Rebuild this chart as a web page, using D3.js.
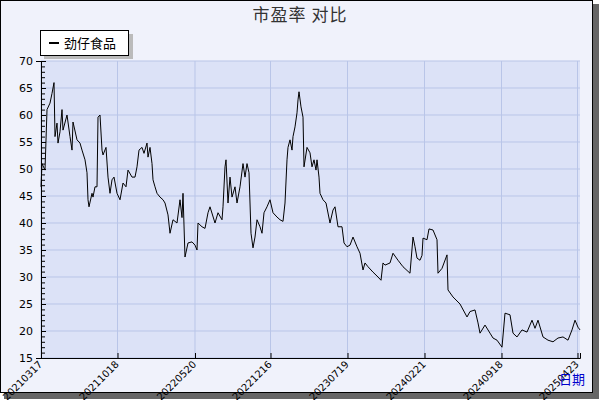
<!DOCTYPE html>
<html><head><meta charset="utf-8">
<script src="https://cdn.jsdelivr.net/npm/d3@7"></script>
<style>body{margin:0;background:#fff}</style></head>
<body><svg id="c" width="600" height="400"></svg>
<script>
const title = "市盈率  对比";
const seriesName = "劲仔食品";
const xTickIdx = [0, 153, 308, 459, 613, 767, 921, 1073];
const xTickLabels = ["20210317","20211018","20220520","20221216","20230719","20240221","20240918","20250423"];
const yTicks = [15,20,25,30,35,40,45,50,55,60,65,70];
// [trading-day index, PE]
const pe = [[0,46.7],[2,51],[8,49.8],[12,61],[18,62.2],[22,64],[26,66],[28,56],[32,58.5],[34,54.8],[38,56.9],[42,61],[44,57.2],[52,60],[58,56],[62,53.5],[64,58.7],[72,55.4],[78,54.8],[82,53.5],[88,51.7],[92,49.3],[94,44.3],[96,43],[102,45.5],[104,44.8],[108,46.7],[112,46.7],[114,59.6],[118,60],[122,53.5],[124,52.6],[130,54],[134,48.5],[138,45.5],[142,48],[146,48.5],[152,45.5],[158,44.3],[164,47.4],[170,46.7],[174,49.8],[182,48.5],[188,48.5],[192,50.4],[196,53.5],[202,54],[206,52.9],[212,54.8],[214,52.2],[218,54],[222,51],[224,48],[228,46.7],[232,45.5],[238,44.8],[244,44.3],[248,43.7],[254,41.5],[258,38.1],[264,40.6],[272,40],[278,44.3],[282,41],[284,45.5],[288,33.7],[294,36.3],[302,36.5],[308,35.9],[312,35],[314,40],[322,39.3],[328,39],[334,41.9],[338,43],[348,40],[354,41.9],[362,40.6],[364,43],[368,50.4],[370,51.7],[374,43.7],[378,48.5],[382,44.8],[388,46.7],[392,43.7],[398,46.7],[404,51],[408,48.5],[412,51],[416,49.3],[420,38.1],[424,35.4],[428,37.4],[432,40.6],[438,39.3],[442,38.1],[446,41.9],[452,43],[458,44.3],[464,41.9],[472,41.1],[478,40.6],[484,40.3],[488,43.7],[492,51.7],[494,54],[498,55.4],[502,53.5],[504,56],[508,57.8],[512,60.4],[514,62.8],[516,64.3],[520,61.5],[524,59.6],[526,50.4],[532,54],[538,53],[542,50.4],[546,51.7],[550,49.8],[552,51.7],[556,48.5],[558,45.5],[564,44.3],[570,43.7],[578,40],[584,42.4],[588,43],[594,39.3],[602,39.3],[606,36.3],[612,35.6],[618,35.9],[624,37.4],[632,35.6],[638,34.4],[644,31.3],[648,32.6],[654,31.9],[664,30.9],[674,30],[680,29.4],[684,32.6],[688,32.2],[698,32.6],[704,34.4],[714,33.1],[724,31.9],[738,30.7],[744,37.4],[748,35.6],[752,33.5],[758,33.1],[762,34],[764,37.2],[772,36.9],[776,38.9],[784,38.7],[792,36.9],[794,30.7],[802,31.6],[812,34.1],[814,27.6],[824,26.3],[838,25],[852,22.6],[858,23.6],[868,23.9],[874,21.5],[878,19.6],[888,21.1],[898,19.6],[904,18.7],[912,18.3],[922,17],[928,23.3],[938,23],[944,19.6],[952,18.9],[962,20.2],[972,19.8],[982,22],[988,20.5],[994,22],[1004,18.9],[1014,18.3],[1024,18],[1034,18.7],[1044,18.9],[1054,18.3],[1062,20.2],[1068,22],[1074,20.7],[1078,20.2]];

const svg = d3.select("#c");
svg.append("rect").attr("x",4).attr("y",4).attr("width",595).attr("height",395).attr("fill","#666");
svg.append("rect").attr("x",0.5).attr("y",0.5).attr("width",592).attr("height",392).attr("fill","#f0f2fb").attr("stroke","#000");

const m = {l:41, r:580, t:61, b:358};
const x = d3.scaleLinear().domain([0,1078]).range([m.l,m.r]);
const y = d3.scaleLinear().domain([15,70]).range([m.b,m.t]);
svg.append("rect").attr("x",m.l).attr("y",m.t).attr("width",m.r-m.l).attr("height",m.b-m.t).attr("fill","#dce2f7");
const g = svg.append("g");
yTicks.forEach(v=>g.append("line").attr("x1",m.l).attr("x2",m.r).attr("y1",y(v)).attr("y2",y(v)).attr("stroke","#b9c5e8"));
xTickIdx.forEach(v=>g.append("line").attr("x1",x(v)).attr("x2",x(v)).attr("y1",m.t).attr("y2",m.b).attr("stroke","#b9c5e8"));

const line = d3.line().x(d=>x(d[0])).y(d=>y(d[1]));
svg.append("path").datum(pe).attr("d",line).attr("fill","none").attr("stroke","#000").attr("stroke-width",1);

const ya = svg.append("g").attr("transform",`translate(${m.l},0)`)
  .call(d3.axisLeft(y).tickValues(d3.range(15,70.1,1)).tickSize(5).tickFormat(d=>yTicks.includes(d)?d:""));
ya.selectAll(".tick line").attr("x2",d=>yTicks.includes(d)?5:4).attr("x1",0);
ya.selectAll("text").attr("x",-8).attr("font-family","DejaVu Sans").attr("font-size",11).attr("fill","#000");
ya.select(".domain").attr("stroke","#000");
const xa = svg.append("g").attr("transform",`translate(0,${m.b})`)
  .call(d3.axisBottom(x).tickValues(xTickIdx).tickSize(-5).tickFormat((d,i)=>xTickLabels[i]));
xa.select(".domain").attr("stroke","#000");
xa.selectAll("text").attr("font-family","DejaVu Sans").attr("font-size",10).attr("fill","#000")
  .attr("text-anchor","end").attr("dy",0).attr("y",6).attr("x",-4).attr("transform","rotate(-45)");

svg.append("text").attr("x",300).attr("y",21).attr("text-anchor","middle").attr("font-family","Noto Sans CJK SC").attr("font-size",17).attr("letter-spacing",1).attr("fill","#333").text(title);
svg.append("text").attr("x",572).attr("y",384).attr("text-anchor","middle").attr("font-family","Noto Sans CJK SC").attr("font-size",13).attr("fill","#0000cc").text("日期");

svg.append("rect").attr("x",44).attr("y",34).attr("width",89).attr("height",25).attr("fill","#bbb");
svg.append("rect").attr("x",40.5).attr("y",30.5).attr("width",88).attr("height",25).attr("fill","#fff").attr("stroke","#000");
svg.append("line").attr("x1",49).attr("x2",59).attr("y1",43).attr("y2",43).attr("stroke","#000").attr("stroke-width",2);
svg.append("text").attr("x",64).attr("y",48).attr("font-family","Noto Sans CJK SC").attr("font-size",13).text(seriesName);
</script></body></html>
